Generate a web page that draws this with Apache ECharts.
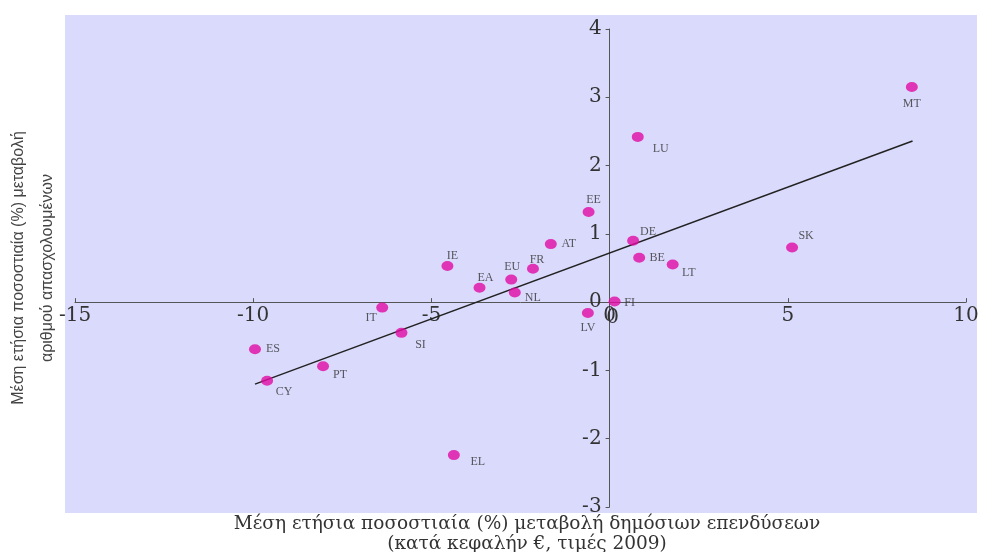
<!DOCTYPE html>
<html>
<head>
<meta charset="utf-8">
<script src="https://cdn.jsdelivr.net/npm/echarts@6/dist/echarts.min.js"></script>
<style>html,body{margin:0;padding:0;background:#fff;}#chart{width:982px;height:552px;}</style>
</head>
<body>
<div id="chart"></div>
<script>
// ---- data ----
var countries = ['MT','LU','EE','AT','DE','BE','IE','FR','EU','EA','NL','FI','LV','IT','SI','PT','ES','CY','EL','SK','LT'];
var investChange = [8.48, 0.79, -0.59, -1.65, 0.66, 0.83, -4.55, -2.15, -2.76, -3.65, -2.66, 0.14, -0.61, -6.38, -5.84, -8.04, -9.95, -9.61, -4.37, 5.12, 1.77];
var employChange = [3.15, 2.42, 1.32, 0.85, 0.90, 0.65, 0.53, 0.49, 0.33, 0.21, 0.14, 0.01, -0.16, -0.08, -0.45, -0.94, -0.69, -1.15, -2.24, 0.80, 0.55];
var trendX = [-9.95, 8.5];
var trendY = [-1.20, 2.36];
var xTicks = [-15, -10, -5, 0, 5, 10];
var yTicks = [-3, -2, -1, 0, 1, 2, 3, 4];
var xTitle = 'Μέση ετήσια ποσοστιαία (%) μεταβολή δημόσιων επενδύσεων\n(κατά κεφαλήν €, τιμές 2009)';
var yTitle = 'Μέση ετήσια ποσοστιαία (%) μεταβολή\nαριθμού απασχολουμένων';

// ---- label placement (style) ----
var labelOffset = {
  MT:[0,17], LU:[23,12], EE:[5,-12], AT:[18,0], DE:[15,-9], BE:[18,0], IE:[5,-10],
  FR:[4,-9], EU:[1,-13], EA:[6,-10], NL:[18,5], FI:[15,1], LV:[0,15], IT:[-11,10],
  SI:[19,12], PT:[17,9], ES:[18,0], CY:[17,11], EL:[24,7], SK:[14,-12], LT:[16,8]
};

var pts = countries.map(function(c, i){
  return {
    name: c,
    value: [investChange[i], employChange[i]],
    label: { offset: labelOffset[c] }
  };
});
var trend = trendX.map(function(x, i){ return [x, trendY[i]]; });

var chart = echarts.init(document.getElementById('chart'));
var serif = '"DejaVu Serif", serif';
var tickFontSize = 20, xLabelMargin = 4;
chart.setOption({
  animation: false,
  backgroundColor: '#ffffff',
  graphic: [{
    id: 'bg', type: 'rect', z: -10, silent: true,
    shape: { x: 65, y: 15, width: 912, height: 498 },
    style: { fill: '#dadafc' }
  }, {
    id: 'xt', type: 'text', silent: true, x: 527, y: 514,
    style: { text: xTitle, fill: '#333', fontFamily: serif, fontSize: 18.5,
      lineHeight: 20, align: 'center', verticalAlign: 'top' }
  }, {
    id: 'yt', type: 'text', silent: true, rotation: Math.PI / 2, x: 4, y: 268,
    style: { text: yTitle, fill: '#444', fontFamily: '"Liberation Sans", sans-serif', fontSize: 16,
      lineHeight: 29, align: 'center', verticalAlign: 'top' }
  }],
  grid: { left: 75, right: 16, top: 29, bottom: 45, outerBoundsMode: 'none' },
  xAxis: {
    type: 'value', min: -15, max: 10, interval: 5,
    splitLine: { show: false },
    axisLine: { onZero: false, lineStyle: { color: '#555', width: 1 } },
    axisTick: { inside: true, length: 4, lineStyle: { color: '#555' } },
    axisLabel: { color: '#333', fontFamily: serif, fontSize: tickFontSize, margin: xLabelMargin,
      formatter: function(v){ return xTicks.indexOf(v) >= 0 ? String(v) : ''; } }
  },
  yAxis: {
    type: 'value', min: -3, max: 4, interval: 1,
    splitLine: { show: false },
    axisLine: { onZero: false, lineStyle: { color: '#555', width: 1 } },
    axisTick: { length: 4, lineStyle: { color: '#555' } },
    axisLabel: { color: '#333', fontFamily: serif, fontSize: tickFontSize, margin: 8,
      formatter: function(v){ return yTicks.indexOf(v) >= 0 ? String(v) : ''; } }
  },
  series: [{
    type: 'line', data: trend, symbol: 'none', silent: true, z: 1,
    lineStyle: { color: '#222', width: 1.5 }
  }, {
    type: 'scatter', data: pts, symbol: 'circle', symbolSize: [12, 10], z: 2,
    itemStyle: { color: '#e10aa4' },
    label: { show: true, position: 'inside', formatter: '{b}', color: '#333',
      fontFamily: '"Liberation Serif", serif', fontSize: 12 }
  }]
});
// move both axes (line + labels) to cross at zero
var origin = chart.convertToPixel({ gridIndex: 0 }, [0, 0]);
var corner = chart.convertToPixel({ gridIndex: 0 }, [-15, -3]);
chart.setOption({
  xAxis: { offset: -(corner[1] - origin[1]) },
  yAxis: { offset: -(origin[0] - corner[0]) },
  graphic: [{ id: 'x0', type: 'text', silent: true, z: 50,
    x: origin[0] + 3, y: origin[1] + xLabelMargin + 2,
    style: { text: String(xTicks[3]), fill: '#333', fontFamily: serif, fontSize: tickFontSize,
      align: 'center', verticalAlign: 'top' } }]
});
</script>
</body>
</html>
